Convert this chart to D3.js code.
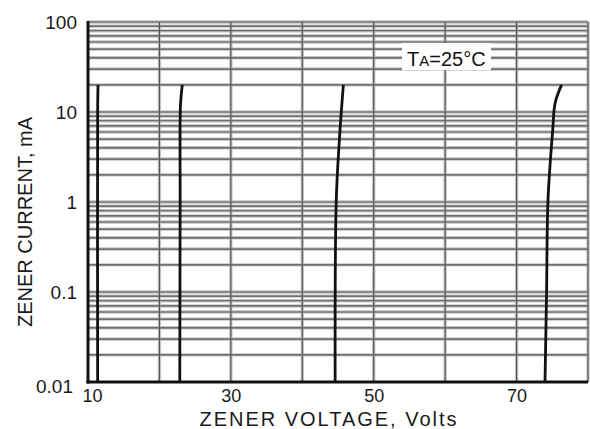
<!DOCTYPE html>
<html>
<head>
<meta charset="utf-8">
<script src="https://cdn.jsdelivr.net/npm/d3@7"></script>
<style>
  html, body { margin: 0; padding: 0; background: #fff; }
  svg { display: block; font-family: "Liberation Sans", Arial, sans-serif; }
</style>
</head>
<body>
<svg id="chart" width="590" height="429"></svg>
<script>
// Zener breakdown characteristics at TA = 25°C (voltage in V, current in mA)
const curve1Voltage = [11.35, 11.35, 11.4];
const curve1Current = [0.01, 10, 20];
const curve2Voltage = [22.85, 22.9, 22.95, 23.2];
const curve2Current = [0.01, 1, 12, 20];
const curve3Voltage = [44.6, 44.75, 45.2, 45.75];
const curve3Current = [0.01, 1, 5, 20];
const curve4Voltage = [73.98, 74.2, 74.4, 75.06, 75.4, 76.3];
const curve4Current = [0.01, 0.1, 1.05, 6.3, 12.6, 20];

const xTickValues = [10, 30, 50, 70];
const xGridValues = [20, 30, 40, 50, 60, 70, 80];
const yTickValues = [0.01, 0.1, 1, 10, 100];
const yTickLabels = ["0.01", "0.1", "1", "10", "100"];
const yDecades = [0.01, 0.1, 1, 10];
const yMultipliers = [1, 2, 3, 4, 5, 6, 7, 8, 9];

const svg = d3.select("#chart");
const plotLeft = 88, plotRight = 588, plotTop = 22, plotBottom = 382;

const x = d3.scaleLinear().domain([10, 80]).range([plotLeft, plotRight]);
const y = d3.scaleLog().domain([0.01, 100]).range([plotBottom, plotTop]);

// log-grid lines: every 1..9 step in each decade, plus the top edge
const yGrid = [];
yDecades.forEach(d => yMultipliers.forEach(m => yGrid.push(+(d * m).toPrecision(3))));
yGrid.push(100);

const grid = svg.append("g");
// soft halo under each grid line, then the darker core
[["#c4c4c4", 3.4], ["#555", 1.15]].forEach(([col, w]) => {
  grid.append("g").selectAll("line").data(yGrid.filter(v => v > 0.01)).join("line")
    .attr("x1", plotLeft).attr("x2", plotRight)
    .attr("y1", d => y(d)).attr("y2", d => y(d))
    .attr("stroke", col).attr("stroke-width", w);
  grid.append("g").selectAll("line").data(xGridValues).join("line")
    .attr("x1", d => x(d)).attr("x2", d => x(d))
    .attr("y1", plotTop).attr("y2", plotBottom)
    .attr("stroke", col).attr("stroke-width", w);
});

// annotation box
const note = svg.append("g");
note.append("rect").attr("x", 402).attr("y", 43).attr("width", 89).attr("height", 27).attr("fill", "#fff");
const nt = note.append("text").attr("x", 407).attr("y", 66)
  .attr("font-size", 20).attr("fill", "#111");
nt.append("tspan").text("T");
nt.append("tspan").attr("font-size", 15).text("A");
nt.append("tspan").text("=25°C");

// characteristic curves
const line = d3.line()
  .x(d => x(d[0])).y(d => y(d[1]))
  .curve(d3.curveCatmullRom.alpha(0.5));
const curves = [
  [curve1Voltage, curve1Current],
  [curve2Voltage, curve2Current],
  [curve3Voltage, curve3Current],
  [curve4Voltage, curve4Current]
];
svg.append("g").selectAll("path").data(curves).join("path")
  .attr("d", c => line(c[0].map((v, i) => [v, c[1][i]])))
  .attr("fill", "none").attr("stroke", "#111").attr("stroke-width", 2.8)
  .attr("stroke-linecap", "butt");

// heavy left and bottom axis lines
svg.append("line").attr("x1", plotLeft).attr("x2", plotLeft).attr("y1", plotTop - 1).attr("y2", plotBottom + 1.5)
  .attr("stroke", "#111").attr("stroke-width", 3);
svg.append("line").attr("x1", plotLeft - 1.5).attr("x2", plotRight).attr("y1", plotBottom).attr("y2", plotBottom)
  .attr("stroke", "#111").attr("stroke-width", 3);

// y axis tick labels
const yAxis = d3.axisLeft(y).tickValues(yTickValues)
  .tickFormat((d, i) => yTickLabels[i]).tickSize(0).tickPadding(11);
const gy = svg.append("g").attr("transform", `translate(${plotLeft},0)`).call(yAxis);
gy.select(".domain").remove();
gy.selectAll("text").attr("font-size", 19).attr("fill", "#1a1a1a")
  .attr("font-family", "'Liberation Sans', Arial, sans-serif")
  .attr("dy", (d) => d === 0.01 ? "0.55em" : "0.35em")
  .attr("dx", (d) => d === 0.01 ? -4 : 0);

// x axis tick labels
const xAxis = d3.axisBottom(x).tickValues(xTickValues).tickFormat(d3.format("d"))
  .tickSize(0).tickPadding(7);
const gx = svg.append("g").attr("transform", `translate(0,${plotBottom})`).call(xAxis);
gx.select(".domain").remove();
gx.selectAll("text").attr("font-size", 18).attr("fill", "#1a1a1a")
  .attr("font-family", "'Liberation Sans', Arial, sans-serif")
  .attr("dx", d => d === 10 ? 4 : 0);

// axis titles
svg.append("text").attr("x", 328).attr("y", 426).attr("text-anchor", "middle")
  .attr("font-size", 20).attr("fill", "#1a1a1a")
  .attr("textLength", 257).attr("lengthAdjust", "spacing")
  .text("ZENER VOLTAGE, Volts");
svg.append("text").attr("transform", "translate(32,222) rotate(-90)")
  .attr("text-anchor", "middle").attr("font-size", 20).attr("fill", "#1a1a1a")
  .text("ZENER CURRENT, mA");
</script>
</body>
</html>
